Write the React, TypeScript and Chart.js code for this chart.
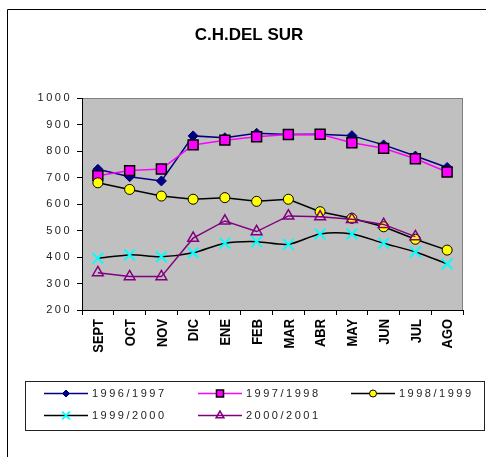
import React, { useEffect, useRef } from 'react';
import { Chart, registerables } from 'chart.js';
import { drawPoint } from 'chart.js/helpers';

Chart.register(...registerables);

const TITLE = 'C.H.DEL SUR';
const MONTHS = ['SEPT', 'OCT', 'NOV', 'DIC', 'ENE', 'FEB', 'MAR', 'ABR', 'MAY', 'JUN', 'JUL', 'AGO'];
const SERIES_NAMES = ['1996/1997', '1997/1998', '1998/1999', '1999/2000', '2000/2001'];

const S_1996_1997 = [731, 703, 687, 857, 850, 867, 862, 863, 858, 823, 781, 738];
const S_1997_1998 = [707, 726, 732, 823, 841, 854, 862, 863, 831, 810, 771, 721];
const S_1998_1999 = [680, 655, 630, 618, 624, 610, 618, 571, 546, 514, 467, 426];
const S_1999_2000 = [395, 408, 401, 416, 452, 458, 448, 487, 487, 452, 419, 374];
const S_2000_2001 = [341, 326, 326, 471, 536, 496, 555, 552, 542, 523, 477, null];

const Y_MIN = 200;
const Y_MAX = 1000;
const Y_STEP = 100;

const FONT = '"Liberation Sans", Arial, sans-serif';

const STYLES = [
  { line: '#000080', fill: '#000080', border: '#000080', style: 'rectRot', r: 5, lr: 3.5, bw: 1 },
  { line: '#ff00ff', fill: '#ff00ff', border: '#000000', style: 'rect', r: 7, lr: 5, bw: 1.5 },
  { line: '#000000', fill: '#ffff00', border: '#000000', style: 'circle', r: 5, lr: 3.5, bw: 1 },
  { line: '#000000', fill: '#00ffff', border: '#00ffff', style: 'crossRot', r: 7.5, lr: 5.5, bw: 2 },
  { line: '#800080', fill: 'rgba(0,0,0,0)', border: '#800080', style: 'triangle', r: 6.2, lr: 4.5, bw: 1.5 },
];

const framePlugin = {
  id: 'framePlugin',
  beforeDraw(chart: any) {
    const { ctx, chartArea: a } = chart;
    ctx.save();
    ctx.fillStyle = '#ffffff';
    ctx.fillRect(0, 0, chart.width, chart.height);
    ctx.fillStyle = '#c0c0c0';
    ctx.fillRect(a.left, a.top, a.right - a.left, a.bottom - a.top);
    ctx.strokeStyle = '#808080';
    ctx.lineWidth = 1;
    ctx.strokeRect(a.left + 0.5, a.top + 0.5, a.right - a.left - 1, a.bottom - a.top);
    // outer chart border (left and top visible)
    ctx.strokeStyle = '#000000';
    ctx.beginPath();
    ctx.moveTo(7.5, chart.height + 5);
    ctx.lineTo(7.5, 9.5);
    ctx.lineTo(chart.width + 5, 9.5);
    ctx.stroke();
    // title
    ctx.fillStyle = '#000000';
    ctx.font = 'bold 17px ' + FONT;
    ctx.textAlign = 'center';
    ctx.textBaseline = 'alphabetic';
    ctx.fillText(TITLE, 249, 40);
    ctx.restore();
    (ctx as any).letterSpacing = '2.5px';
  },
  afterDraw(chart: any) {
    const { ctx } = chart;
    (ctx as any).letterSpacing = '0px';
    const xs = chart.scales.x;
    // x category labels, vertical, condensed
    ctx.save();
    ctx.fillStyle = '#000000';
    ctx.font = 'bold 15px ' + FONT;
    ctx.textAlign = 'right';
    ctx.textBaseline = 'alphabetic';
    MONTHS.forEach((m, i) => {
      const x = xs.getPixelForValue(i);
      ctx.save();
      ctx.translate(x, 319);
      ctx.rotate(-Math.PI / 2);
      ctx.scale(0.86, 1);
      ctx.fillText(m, 0, 5.3);
      ctx.restore();
    });
    ctx.restore();

    // legend
    ctx.save();
    ctx.strokeStyle = '#222222';
    ctx.lineWidth = 1;
    ctx.strokeRect(25.5, 381.5, 459, 49);
    const cols = [44, 198, 351];
    const rows = [393.5, 415.5];
    chart.data.datasets.forEach((ds: any, i: number) => {
      const st = STYLES[i];
      const x0 = cols[i % 3];
      const y = rows[Math.floor(i / 3)];
      ctx.strokeStyle = st.line;
      ctx.lineWidth = 1.5;
      ctx.beginPath();
      ctx.moveTo(x0, y);
      ctx.lineTo(x0 + 44, y);
      ctx.stroke();
      ctx.fillStyle = st.fill;
      ctx.strokeStyle = st.border;
      ctx.lineWidth = st.bw;
      drawPoint(ctx, { pointStyle: st.style, rotation: 0, radius: st.lr, borderWidth: st.bw } as any, x0 + 22, y);
      (ctx as any).letterSpacing = '2.5px';
      ctx.fillStyle = '#222222';
      ctx.font = '11px ' + FONT;
      ctx.textAlign = 'left';
      ctx.textBaseline = 'middle';
      ctx.fillText(ds.label, x0 + 48, y);
      (ctx as any).letterSpacing = '0px';
    });
    ctx.restore();
  },
};

export default function App() {
  const ref = useRef<HTMLCanvasElement | null>(null);

  useEffect(() => {
    if (!ref.current) return;
    const seriesData = [S_1996_1997, S_1997_1998, S_1998_1999, S_1999_2000, S_2000_2001];
    const chart = new Chart(ref.current, {
      type: 'line',
      data: {
        labels: MONTHS,
        datasets: seriesData.map((d, i) => ({
          label: SERIES_NAMES[i],
          data: d,
          order: seriesData.length - i,
          borderColor: STYLES[i].line,
          borderWidth: 1.5,
          backgroundColor: STYLES[i].fill,
          pointStyle: STYLES[i].style as any,
          pointRadius: STYLES[i].r,
          pointHoverRadius: STYLES[i].r,
          pointBackgroundColor: STYLES[i].fill,
          pointBorderColor: STYLES[i].border,
          pointBorderWidth: STYLES[i].bw,
          tension: i === 3 ? 0.3 : 0,
          fill: false,
          spanGaps: false,
        })),
      },
      options: {
        responsive: false,
        animation: false,
        devicePixelRatio: 1,
        layout: { padding: { left: 0, top: 98, right: 23, bottom: 97 } },
        plugins: {
          legend: { display: false },
          title: { display: false },
          tooltip: { enabled: false },
        },
        scales: {
          x: {
            type: 'category',
            offset: true,
            grid: { display: true, offset: true, drawOnChartArea: false, drawTicks: true, tickLength: 5, color: '#000000' },
            border: { display: true, color: '#000000', width: 1 },
            ticks: { display: false },
            afterFit: (s: any) => { s.height = 50; },
          },
          y: {
            min: Y_MIN,
            max: Y_MAX,
            grid: { display: true, drawOnChartArea: false, drawTicks: true, tickLength: 5, color: '#000000' },
            border: { display: true, color: '#000000', width: 1 },
            ticks: {
              stepSize: Y_STEP,
              color: '#222222',
              font: { size: 11, family: FONT },
              padding: 5,
              callback: (v: any) => String(v),
            },
            afterFit: (s: any) => { s.width = 82; },
          },
        },
      },
      plugins: [framePlugin],
    } as any);
    return () => chart.destroy();
  }, []);

  return (
    <div style={{ position: 'fixed', left: 0, top: 0, width: 486, height: 457 }}>
      <canvas ref={ref} width={486} height={457} style={{ display: 'block', width: 486, height: 457 }} />
    </div>
  );
}
